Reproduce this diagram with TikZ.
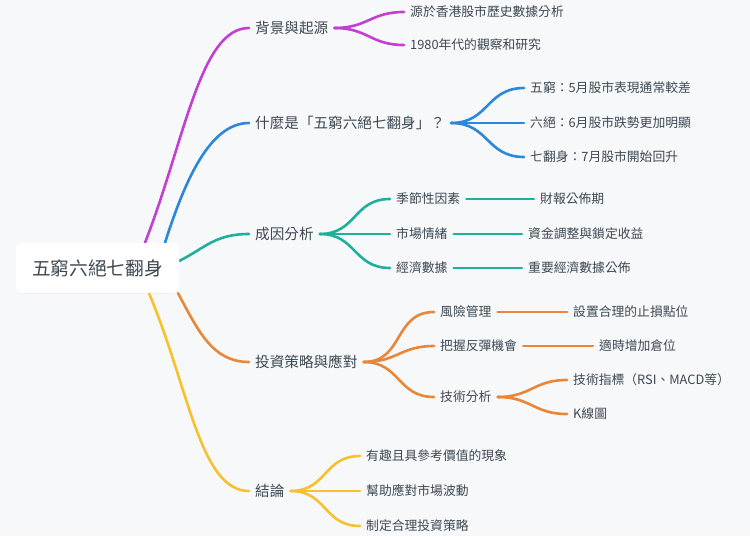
\documentclass[tikz,border=0pt]{standalone}
\usepackage{fontspec}
\setmainfont{Noto Sans CJK TC}
\usetikzlibrary{shadows}
\pgfdeclarelayer{bg}
\pgfdeclarelayer{edges}
\pgfsetlayers{bg,edges,main}
\definecolor{bgc}{HTML}{F7F8FA}
\definecolor{txt}{HTML}{3D4852}
\definecolor{cpur}{HTML}{C23FD2}
\definecolor{cblu}{HTML}{2C87DB}
\definecolor{ctea}{HTML}{20AF9B}
\definecolor{cora}{HTML}{E8873A}
\definecolor{cyel}{HTML}{F6C12F}
\tikzset{
  rootbox/.style={fill=white, rounded corners=5pt, minimum width=163pt, minimum height=50pt,
    inner sep=0pt, text=txt, font=\fontsize{18.7}{22}\selectfont,
    drop shadow={opacity=0.06, shadow xshift=0pt, shadow yshift=-1pt}},
  lvone/.style={anchor=west, inner xsep=6pt, inner ysep=0pt, text=txt, font=\fontsize{14.6}{17}\selectfont},
  lvtwo/.style={anchor=west, inner xsep=6pt, inner ysep=0pt, text=txt, font=\fontsize{12.8}{15}\selectfont},
  link/.style={line width=2.6pt, line cap=round},
  fork/.style={link, out=0, in=180, looseness=1.2}
}
\begin{document}
\begin{tikzpicture}[x=1pt,y=-1pt]
\useasboundingbox (0,0) rectangle (750,536);
\begin{pgfonlayer}{bg}
\fill[bgc] (0,0) rectangle (750,536);
\end{pgfonlayer}

\node[rootbox] (root) at (97.5,268) {五窮六絕七翻身};

\node[lvone] (b1) at (249,28) {背景與起源};
\node[lvone] (b2) at (249,123) {什麼是「五窮六絕七翻身」？};
\node[lvone] (b3) at (249,234) {成因分析};
\node[lvone] (b4) at (249,362) {投資策略與應對};
\node[lvone] (b5) at (249,491) {結論};

\node[lvtwo] (b1a) at (404,12) {源於香港股市歷史數據分析};
\node[lvtwo] (b1b) at (404,45) {1980年代的觀察和研究};

\node[lvtwo] (b2a) at (524,88) {五窮：5月股市表現通常較差};
\node[lvtwo] (b2b) at (524,123) {六絕：6月股市跌勢更加明顯};
\node[lvtwo] (b2c) at (524,157) {七翻身：7月股市開始回升};

\node[lvtwo] (b3a) at (390,199) {季節性因素};
\node[lvtwo] (b3b) at (390,234) {市場情緒};
\node[lvtwo] (b3c) at (390,268) {經濟數據};
\node[lvtwo] (b3a1) at (534,199) {財報公佈期};
\node[lvtwo] (b3b1) at (522,234) {資金調整與鎖定收益};
\node[lvtwo] (b3c1) at (522,268) {重要經濟數據公佈};

\node[lvtwo] (b4a) at (434,312) {風險管理};
\node[lvtwo] (b4b) at (434,346) {把握反彈機會};
\node[lvtwo] (b4c) at (434,397) {技術分析};
\node[lvtwo] (b4a1) at (567,312) {設置合理的止損點位};
\node[lvtwo] (b4b1) at (593,346) {適時增加倉位};
\node[lvtwo] (b4c1) at (567,380) {技術指標（RSI、MACD等）};
\node[lvtwo] (b4c2) at (567,414) {K線圖};

\node[lvtwo] (b5a) at (360,456) {有趣且具參考價值的現象};
\node[lvtwo] (b5b) at (360,491) {幫助應對市場波動};
\node[lvtwo] (b5c) at (360,526) {制定合理投資策略};

\begin{pgfonlayer}{edges}
% root branches
\draw[link, cpur] ([xshift=47.5pt]root.north) .. controls (185,140) and (200,28) .. (b1.west);
\draw[link, cblu] ([xshift=67.5pt]root.north) .. controls (185,180) and (210,123) .. (b2.west);
\draw[link, ctea] ([yshift=7pt]root.east) .. controls (205,248) and (215,234) .. (b3.west);
\draw[link, cora] ([xshift=80.5pt]root.south) .. controls (198,330) and (212,362) .. (b4.west);
\draw[link, cyel] ([xshift=51.5pt]root.south) .. controls (189,388) and (200,491) .. (b5.west);
% purple
\draw[fork, cpur] (b1.east) to (b1a.west);
\draw[fork, cpur] (b1.east) to (b1b.west);
% blue
\draw[fork, cblu] (b2.east) to (b2a.west);
\draw[fork, cblu] (b2.east) to (b2b.west);
\draw[fork, cblu] (b2.east) to (b2c.west);
% teal
\draw[fork, ctea] (b3.east) to (b3a.west);
\draw[fork, ctea] (b3.east) to (b3b.west);
\draw[fork, ctea] (b3.east) to (b3c.west);
\draw[link, ctea] (b3a.east) -- (b3a1.west);
\draw[link, ctea] (b3b.east) -- (b3b1.west);
\draw[link, ctea] (b3c.east) -- (b3c1.west);
% orange
\draw[fork, cora] (b4.east) to (b4a.west);
\draw[fork, cora] (b4.east) to (b4b.west);
\draw[fork, cora] (b4.east) to (b4c.west);
\draw[link, cora] (b4a.east) -- (b4a1.west);
\draw[link, cora] (b4b.east) -- (b4b1.west);
\draw[fork, cora] (b4c.east) to (b4c1.west);
\draw[fork, cora] (b4c.east) to (b4c2.west);
% yellow
\draw[fork, cyel] (b5.east) to (b5a.west);
\draw[fork, cyel] (b5.east) to (b5b.west);
\draw[fork, cyel] (b5.east) to (b5c.west);
\end{pgfonlayer}
\end{tikzpicture}
\end{document}
